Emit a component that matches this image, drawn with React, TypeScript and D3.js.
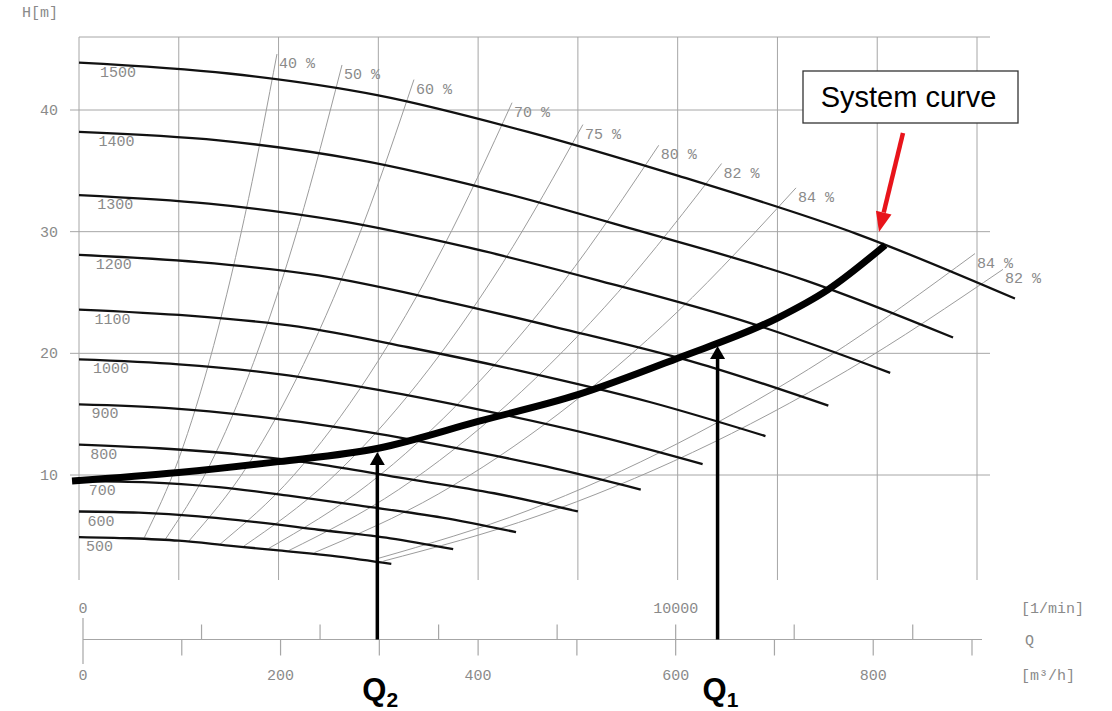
import React from 'react';
import * as d3 from 'd3';

// ---------- data ----------
// pump speed curves, rpm labels
const speeds = [1500, 1400, 1300, 1200, 1100, 1000, 900, 800, 700, 600, 500];
// [Q m³/h, H m]
const curve1500 = [[0, 43.9], [150, 43.0], [300, 41.2], [450, 38.2], [600, 34.6], [780, 29.8], [938, 24.5]];
const curve1400 = [[0, 38.2], [140, 37.5], [280, 35.9], [420, 33.3], [560, 30.1], [728, 26.0], [876, 21.3]];
const curve1300 = [[0, 33.0], [130, 32.3], [260, 30.9], [390, 28.7], [520, 26.0], [676, 22.4], [813, 18.4]];
const curve1200 = [[0, 28.1], [120, 27.5], [240, 26.4], [360, 24.4], [480, 22.1], [624, 19.1], [751, 15.7]];
const curve1100 = [[0, 23.6], [110, 23.1], [220, 22.2], [330, 20.5], [440, 18.6], [572, 16.0], [688, 13.2]];
const curve1000 = [[0, 19.5], [100, 19.1], [200, 18.3], [300, 17.0], [400, 15.4], [520, 13.2], [625, 10.9]];
const curve900 = [[0, 15.8], [90, 15.5], [180, 14.8], [270, 13.8], [360, 12.5], [468, 10.7], [563, 8.8]];
const curve800 = [[0, 12.5], [80, 12.2], [160, 11.7], [240, 10.9], [320, 9.8], [416, 8.5], [500, 7.0]];
const curve700 = [[0, 9.5], [70, 9.4], [140, 9.0], [210, 8.3], [280, 7.5], [364, 6.5], [438, 5.3]];
const curve600 = [[0, 7.0], [60, 6.9], [120, 6.6], [180, 6.1], [240, 5.5], [312, 4.8], [375, 3.9]];
const curve500 = [[0, 4.9], [50, 4.8], [100, 4.6], [150, 4.2], [200, 3.8], [260, 3.3], [313, 2.7]];
const pumpCurves = [curve1500, curve1400, curve1300, curve1200, curve1100, curve1000, curve900, curve800, curve700, curve600, curve500];

// iso-efficiency lines
const effLabels = ['40 %', '50 %', '60 %', '70 %', '75 %', '80 %', '82 %', '84 %', '84 %', '82 %'];
const eff40 = [[65.5, 4.86], [100, 11.33], [135, 20.65], [170, 32.74], [198.4, 44.6]];
const eff50 = [[86, 4.65], [130, 10.63], [175, 19.26], [220, 30.44], [263.6, 43.7]];
const eff60 = [[110, 4.56], [170, 10.9], [225, 19.09], [285, 30.63], [335.7, 42.5]];
const eff70 = [[141, 4.29], [215, 9.96], [290, 18.13], [365, 28.72], [434, 40.6]];
const eff75 = [[165, 4.14], [250, 9.51], [340, 17.58], [425, 27.47], [505, 38.8]];
const eff80 = [[190, 3.96], [290, 9.24], [390, 16.71], [485, 25.83], [581, 37.1]];
const eff82 = [[210, 3.78], [320, 8.78], [430, 15.85], [540, 25.0], [644, 35.6]];
const eff84 = [[236, 3.62], [360, 8.43], [480, 14.99], [600, 23.43], [718.6, 33.6]];
const eff84r = [[300, 3.15], [450, 7.08], [600, 12.59], [750, 19.67], [898, 28.2]];
const eff82r = [[305, 2.92], [460, 6.64], [615, 11.86], [770, 18.6], [926, 26.9]];
const effLines = [eff40, eff50, eff60, eff70, eff75, eff80, eff82, eff84, eff84r, eff82r];

// system curve
const systemCurve = [[-7, 9.5], [100, 10.2], [200, 11.1], [300, 12.2], [400, 14.4], [500, 16.6], [600, 19.6], [700, 22.9], [750, 25.2], [808, 28.9]];

// operating points
const opLabels = ['2', '1'];
const opFlows = [299, 640];
const opHeads = [11.9, 20.6];

// axes
const hTicks = [10, 20, 30, 40];
const qGrid = [0, 100, 200, 300, 400, 500, 600, 700, 800, 900];
const m3hTicks = [100, 200, 300, 400, 500, 600, 700, 800, 900];
const m3hLabels = [0, 200, 400, 600, 800];
const lminTicks = [2000, 4000, 6000, 8000, 10000, 12000, 14000];
const lminLabels = [0, 10000];

// ---------- drawing ----------
const W = 1112;
const Hh = 711;
const MONO = "'Liberation Mono', 'DejaVu Sans Mono', monospace";
const SANS = "'Liberation Sans', Arial, sans-serif";
const TXT = '#8a8a8a';
const GRID = '#a6a6a6';

export default function App() {
  const x = d3.scaleLinear().domain([0, 900]).range([79, 977]);
  const y = d3.scaleLinear().domain([10, 40]).range([475, 110]);
  const xB = d3.scaleLinear().domain([0, 900]).range([83, 972]);
  const xL = d3.scaleLinear().domain([0, 15000]).range([83, 972]);
  const hTop = 46;
  const plotBottom = 580;
  const gridRight = 990;
  const axisY = 639.5;

  const line = d3
    .line<number[]>()
    .x((d) => x(d[0]))
    .y((d) => y(d[1]))
    .curve(d3.curveMonotoneX);

  // red arrow geometry
  const ra = { x1: 903, y1: 133, x2: 879, y2: 232 };
  const ang = Math.atan2(ra.y2 - ra.y1, ra.x2 - ra.x1);
  const headL = 20;
  const headW = 8;
  const bx = ra.x2 - headL * Math.cos(ang);
  const by = ra.y2 - headL * Math.sin(ang);
  const px = -Math.sin(ang);
  const py = Math.cos(ang);

  return (
    <svg
      width={W}
      height={Hh}
      style={{ position: 'absolute', left: 0, top: 0, background: '#fff' }}
    >
      {/* grid */}
      <g stroke={GRID} strokeWidth={1}>
        {qGrid.map((q) => (
          <line key={'v' + q} x1={x(q)} x2={x(q)} y1={y(hTop)} y2={plotBottom} />
        ))}
        {hTicks.map((h) => (
          <line key={'h' + h} x1={70} x2={gridRight} y1={y(h)} y2={y(h)} />
        ))}
        <line x1={x(0)} x2={gridRight} y1={y(hTop)} y2={y(hTop)} />
      </g>

      {/* y labels */}
      <g fontFamily={MONO} fontSize={15} fill={TXT}>
        <text x={22} y={17}>H[m]</text>
        {hTicks.map((h) => (
          <text key={'hl' + h} x={58} y={y(h) + 5} textAnchor="end">
            {h}
          </text>
        ))}
      </g>

      {/* efficiency lines */}
      <g fill="none" stroke="#9c9c9c" strokeWidth={1}>
        {effLines.map((d, i) => (
          <path key={'e' + i} d={line(d) || ''} />
        ))}
      </g>
      <g fontFamily={MONO} fontSize={15} fill={TXT}>
        {effLines.map((d, i) => {
          const last = d[d.length - 1];
          return (
            <text key={'el' + i} x={x(last[0]) + 2} y={y(last[1]) + 14}>
              {effLabels[i]}
            </text>
          );
        })}
      </g>

      {/* pump curves */}
      <g fill="none" stroke="#111" strokeWidth={2.3}>
        {pumpCurves.map((d, i) => (
          <path key={'p' + i} d={line(d) || ''} />
        ))}
      </g>
      <g fontFamily={MONO} fontSize={15} fill={TXT}>
        {pumpCurves.map((d, i) => (
          <text key={'pl' + i} x={86 + (speeds[i] - 500) * 0.014} y={y(d[0][1]) + 14}>
            {speeds[i]}
          </text>
        ))}
      </g>

      {/* system curve */}
      <path d={line(systemCurve) || ''} fill="none" stroke="#000" strokeWidth={7} />

      {/* bottom axis */}
      <g stroke={GRID} strokeWidth={1.2}>
        <line x1={xB(0)} x2={982} y1={axisY} y2={axisY} />
        <line x1={xB(0)} x2={xB(0)} y1={618} y2={664} />
        {lminTicks.map((t) => (
          <line key={'lt' + t} x1={xL(t)} x2={xL(t)} y1={axisY - 15} y2={axisY} />
        ))}
        {m3hTicks.map((t) => (
          <line key={'mt' + t} x1={xB(t)} x2={xB(t)} y1={axisY} y2={axisY + 16} />
        ))}
      </g>
      <g fontFamily={MONO} fontSize={15} fill={TXT}>
        {lminLabels.map((t) => (
          <text key={'ll' + t} x={xL(t)} y={613} textAnchor="middle">
            {t}
          </text>
        ))}
        {m3hLabels.map((t) => (
          <text key={'ml' + t} x={xB(t)} y={680} textAnchor="middle">
            {t}
          </text>
        ))}
        <text x={1021} y={613}>[1/min]</text>
        <text x={1025} y={645}>Q</text>
        <text x={1021} y={680}>[m³/h]</text>
      </g>

      {/* operating point arrows */}
      {opFlows.map((q, i) => {
        const cx = x(q);
        const tip = y(opHeads[i]);
        return (
          <g key={'op' + i}>
            <line x1={cx} x2={cx} y1={axisY} y2={tip + 10} stroke="#000" strokeWidth={3.5} />
            <polygon
              points={`${cx},${tip} ${cx - 7.5},${tip + 13} ${cx + 7.5},${tip + 13}`}
              fill="#000"
            />
            <text
              x={cx - 15}
              y={700}
              fontFamily={SANS}
              fontWeight="bold"
              fontSize={31}
              fill="#000"
            >
              Q
              <tspan fontSize={21} dy={7}>
                {opLabels[i]}
              </tspan>
            </text>
          </g>
        );
      })}

      {/* system curve callout */}
      <rect x={803} y={71} width={215} height={52} fill="#fff" stroke="#333" strokeWidth={1.3} />
      <text x={908.5} y={106.5} textAnchor="middle" fontFamily={SANS} fontSize={29} fill="#000">
        System curve
      </text>
      <line x1={ra.x1} y1={ra.y1} x2={bx} y2={by} stroke="#e8141b" strokeWidth={4.5} />
      <polygon
        points={`${ra.x2},${ra.y2} ${bx + px * headW},${by + py * headW} ${bx - px * headW},${by - py * headW}`}
        fill="#e8141b"
      />
    </svg>
  );
}
